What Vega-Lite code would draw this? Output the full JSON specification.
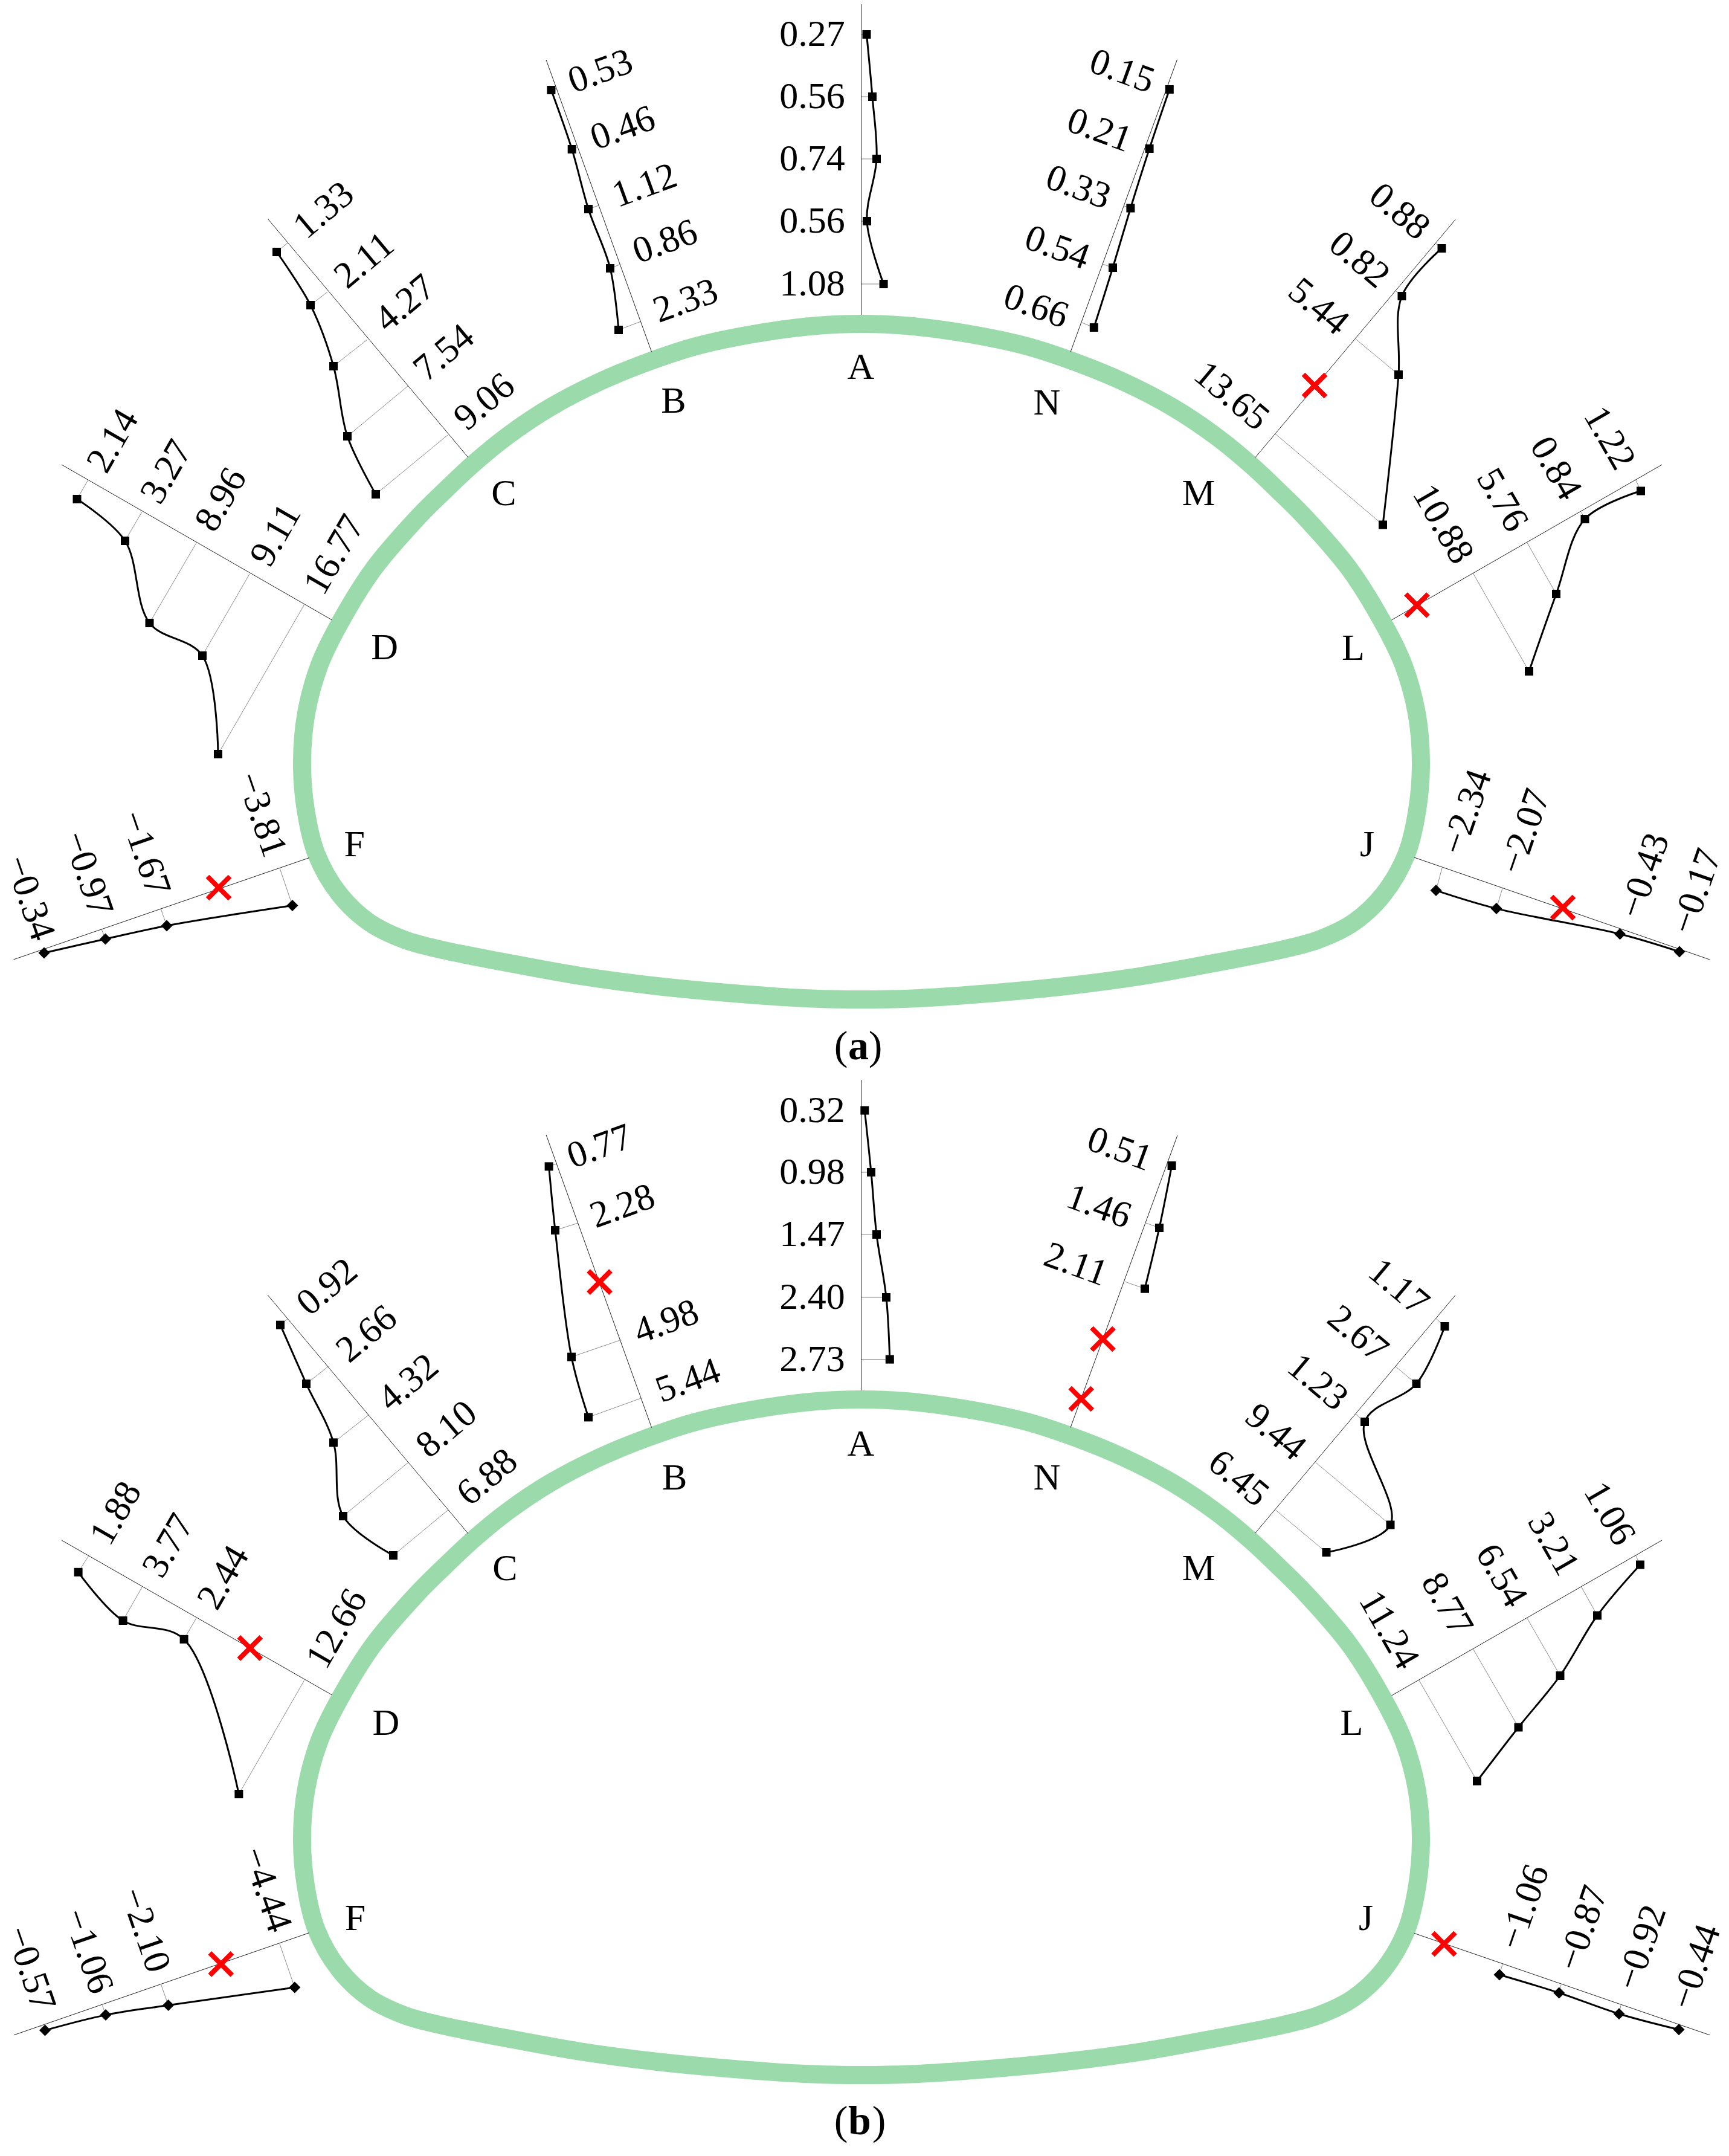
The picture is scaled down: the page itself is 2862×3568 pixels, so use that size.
{"$schema":"https://vega.github.io/schema/vega-lite/v6.json","width":2862,"height":3568,"padding":0,"autosize":{"type":"none"},"background":"white","config":{"view":{"stroke":null}},
"datasets":{
"outline":[
{"p":"a","s":1,"x":1426,"y":536},{"p":"a","s":2,"x":1500,"y":539},{"p":"a","s":3,"x":1600,"y":552},{"p":"a","s":4,"x":1700,"y":573},{"p":"a","s":5,"x":1782,"y":600},{"p":"a","s":6,"x":1860,"y":632},{"p":"a","s":7,"x":1941,"y":674},{"p":"a","s":8,"x":2010,"y":720},{"p":"a","s":9,"x":2069,"y":768},{"p":"a","s":10,"x":2120,"y":816},{"p":"a","s":11,"x":2162,"y":858},{"p":"a","s":12,"x":2234,"y":942},{"p":"a","s":13,"x":2290,"y":1032},{"p":"a","s":14,"x":2323,"y":1100},{"p":"a","s":15,"x":2345,"y":1180},{"p":"a","s":16,"x":2352,"y":1261},{"p":"a","s":17,"x":2346,"y":1340},{"p":"a","s":18,"x":2328,"y":1414},{"p":"a","s":19,"x":2290,"y":1480},{"p":"a","s":20,"x":2240,"y":1527},{"p":"a","s":21,"x":2183,"y":1555},{"p":"a","s":22,"x":2120,"y":1572},{"p":"a","s":23,"x":2019,"y":1592},{"p":"a","s":24,"x":1892,"y":1615},{"p":"a","s":25,"x":1764,"y":1632},{"p":"a","s":26,"x":1637,"y":1644},{"p":"a","s":27,"x":1509,"y":1652.5},{"p":"a","s":28,"x":1426,"y":1654},{"p":"a","s":29,"x":1343,"y":1652.5},{"p":"a","s":30,"x":1215,"y":1644},{"p":"a","s":31,"x":1088,"y":1632},{"p":"a","s":32,"x":960,"y":1615},{"p":"a","s":33,"x":833,"y":1592},{"p":"a","s":34,"x":732,"y":1572},{"p":"a","s":35,"x":669,"y":1555},{"p":"a","s":36,"x":612,"y":1527},{"p":"a","s":37,"x":562,"y":1480},{"p":"a","s":38,"x":524,"y":1414},{"p":"a","s":39,"x":506,"y":1340},{"p":"a","s":40,"x":500,"y":1261},{"p":"a","s":41,"x":507,"y":1180},{"p":"a","s":42,"x":529,"y":1100},{"p":"a","s":43,"x":562,"y":1032},{"p":"a","s":44,"x":618,"y":942},{"p":"a","s":45,"x":690,"y":858},{"p":"a","s":46,"x":732,"y":816},{"p":"a","s":47,"x":783,"y":768},{"p":"a","s":48,"x":842,"y":720},{"p":"a","s":49,"x":911,"y":674},{"p":"a","s":50,"x":992,"y":632},{"p":"a","s":51,"x":1070,"y":600},{"p":"a","s":52,"x":1152,"y":573},{"p":"a","s":53,"x":1252,"y":552},{"p":"a","s":54,"x":1352,"y":539},
{"p":"b","s":1,"x":1426,"y":2316},{"p":"b","s":2,"x":1500,"y":2319},{"p":"b","s":3,"x":1600,"y":2332},{"p":"b","s":4,"x":1700,"y":2353},{"p":"b","s":5,"x":1782,"y":2380},{"p":"b","s":6,"x":1860,"y":2412},{"p":"b","s":7,"x":1941,"y":2454},{"p":"b","s":8,"x":2010,"y":2500},{"p":"b","s":9,"x":2069,"y":2548},{"p":"b","s":10,"x":2120,"y":2596},{"p":"b","s":11,"x":2162,"y":2638},{"p":"b","s":12,"x":2234,"y":2722},{"p":"b","s":13,"x":2290,"y":2812},{"p":"b","s":14,"x":2323,"y":2880},{"p":"b","s":15,"x":2345,"y":2960},{"p":"b","s":16,"x":2352,"y":3041},{"p":"b","s":17,"x":2346,"y":3120},{"p":"b","s":18,"x":2328,"y":3194},{"p":"b","s":19,"x":2290,"y":3260},{"p":"b","s":20,"x":2240,"y":3307},{"p":"b","s":21,"x":2183,"y":3335},{"p":"b","s":22,"x":2120,"y":3352},{"p":"b","s":23,"x":2019,"y":3372},{"p":"b","s":24,"x":1892,"y":3395},{"p":"b","s":25,"x":1764,"y":3412},{"p":"b","s":26,"x":1637,"y":3424},{"p":"b","s":27,"x":1509,"y":3432.5},{"p":"b","s":28,"x":1426,"y":3434},{"p":"b","s":29,"x":1343,"y":3432.5},{"p":"b","s":30,"x":1215,"y":3424},{"p":"b","s":31,"x":1088,"y":3412},{"p":"b","s":32,"x":960,"y":3395},{"p":"b","s":33,"x":833,"y":3372},{"p":"b","s":34,"x":732,"y":3352},{"p":"b","s":35,"x":669,"y":3335},{"p":"b","s":36,"x":612,"y":3307},{"p":"b","s":37,"x":562,"y":3260},{"p":"b","s":38,"x":524,"y":3194},{"p":"b","s":39,"x":506,"y":3120},{"p":"b","s":40,"x":500,"y":3041},{"p":"b","s":41,"x":507,"y":2960},{"p":"b","s":42,"x":529,"y":2880},{"p":"b","s":43,"x":562,"y":2812},{"p":"b","s":44,"x":618,"y":2722},{"p":"b","s":45,"x":690,"y":2638},{"p":"b","s":46,"x":732,"y":2596},{"p":"b","s":47,"x":783,"y":2548},{"p":"b","s":48,"x":842,"y":2500},{"p":"b","s":49,"x":911,"y":2454},{"p":"b","s":50,"x":992,"y":2412},{"p":"b","s":51,"x":1070,"y":2380},{"p":"b","s":52,"x":1152,"y":2353},{"p":"b","s":53,"x":1252,"y":2332},{"p":"b","s":54,"x":1352,"y":2319}],
"axes":[
{"station":"A","x":1425.6,"y":7,"x2":1425.6,"y2":521},{"station":"B","x":904,"y":99,"x2":1078.7,"y2":582.7},{"station":"C","x":444,"y":363,"x2":775,"y2":757},{"station":"D","x":102,"y":769,"x2":549.5,"y2":1026},{"station":"F","x":512,"y":1419.5,"x2":22.4,"y2":1588},{"station":"J","x":2341,"y":1419,"x2":2830,"y2":1588},{"station":"L","x":2303.5,"y":1026,"x2":2751,"y2":769},{"station":"M","x":2077.5,"y":757.5,"x2":2409,"y2":363.5},{"station":"N","x":1772,"y":582.5,"x2":1948.5,"y2":98.7},
{"station":"A","x":1425.6,"y":1787,"x2":1425.6,"y2":2301},{"station":"B","x":904,"y":1878,"x2":1078.7,"y2":2362.7},{"station":"C","x":443,"y":2143,"x2":775,"y2":2538},{"station":"D","x":102,"y":2549,"x2":549.5,"y2":2805},{"station":"F","x":511.7,"y":3198.7,"x2":23,"y2":3367.8},{"station":"J","x":2341,"y":3199.4,"x2":2830,"y2":3367.8},{"station":"L","x":2303.5,"y":2806,"x2":2751,"y2":2549},{"station":"M","x":2077.5,"y":2537.5,"x2":2409,"y2":2143.5},{"station":"N","x":1772,"y":2362.5,"x2":1949,"y2":1879}],
"profile":[
{"series":"a-A","station":"A","seq":1,"label":"0.27","x":1434.5,"y":57,"fx":1425.6,"fy":57,"lx":1344.5,"ly":57},
{"series":"a-A","station":"A","seq":2,"label":"0.56","x":1444,"y":160,"fx":1425.6,"fy":160,"lx":1344.5,"ly":160},
{"series":"a-A","station":"A","seq":3,"label":"0.74","x":1451,"y":263,"fx":1425.6,"fy":263,"lx":1344.5,"ly":263},
{"series":"a-A","station":"A","seq":4,"label":"0.56","x":1435,"y":366,"fx":1425.6,"fy":366,"lx":1344.5,"ly":366},
{"series":"a-A","station":"A","seq":5,"label":"1.08","x":1462.6,"y":470,"fx":1425.6,"fy":470,"lx":1344.5,"ly":470},
{"series":"a-B","station":"B","seq":1,"label":"0.53","x":912.4,"y":149,"fx":921,"fy":146,"lx":994,"ly":118},
{"series":"a-B","station":"B","seq":2,"label":"0.46","x":946.7,"y":247,"fx":956,"fy":243,"lx":1031,"ly":212},
{"series":"a-B","station":"B","seq":3,"label":"1.12","x":974,"y":346,"fx":991,"fy":340,"lx":1067,"ly":307},
{"series":"a-B","station":"B","seq":4,"label":"0.86","x":1010,"y":444,"fx":1026.4,"fy":437.6,"lx":1101,"ly":400},
{"series":"a-B","station":"B","seq":5,"label":"2.33","x":1024,"y":546,"fx":1060.7,"fy":532,"lx":1135,"ly":498},
{"series":"a-C","station":"C","seq":1,"label":"1.33","x":458,"y":417,"fx":476,"fy":402,"lx":536,"ly":348},
{"series":"a-C","station":"C","seq":2,"label":"2.11","x":514,"y":505,"fx":542,"fy":483,"lx":603,"ly":431},
{"series":"a-C","station":"C","seq":3,"label":"4.27","x":552,"y":606,"fx":608,"fy":562,"lx":670.5,"ly":502},
{"series":"a-C","station":"C","seq":4,"label":"7.54","x":575,"y":722,"fx":675,"fy":639,"lx":735,"ly":584},
{"series":"a-C","station":"C","seq":5,"label":"9.06","x":622,"y":818,"fx":741,"fy":720,"lx":802,"ly":665},
{"series":"a-D","station":"D","seq":1,"label":"2.14","x":127.5,"y":826,"fx":145.4,"fy":795,"lx":187,"ly":729.6},
{"series":"a-D","station":"D","seq":2,"label":"3.27","x":207,"y":895,"fx":235,"fy":847,"lx":275.6,"ly":781},
{"series":"a-D","station":"D","seq":3,"label":"8.96","x":247.5,"y":1031,"fx":325,"fy":898.4,"lx":366,"ly":827},
{"series":"a-D","station":"D","seq":4,"label":"9.11","x":335,"y":1085,"fx":413,"fy":950,"lx":456.6,"ly":885.5},
{"series":"a-D","station":"D","seq":5,"label":"16.77","x":361,"y":1248,"fx":503.6,"fy":1000.7,"lx":553.6,"ly":918},
{"series":"a-F","station":"F","seq":1,"label":"−3.81","x":484,"y":1498.5,"fx":463,"fy":1436.7,"lx":432.6,"ly":1348},
{"series":"a-F","station":"F","seq":2,"label":"−1.67","x":276,"y":1532,"fx":266,"fy":1503.4,"lx":240,"ly":1412},
{"series":"a-F","station":"F","seq":3,"label":"−0.97","x":174.5,"y":1554,"fx":168,"fy":1537.7,"lx":145,"ly":1446},
{"series":"a-F","station":"F","seq":4,"label":"−0.34","x":73,"y":1577,"fx":66,"fy":1573,"lx":49,"ly":1486},
{"series":"a-J","station":"J","seq":1,"label":"−2.34","x":2377,"y":1473.6,"fx":2387,"fy":1436.6,"lx":2428,"ly":1344},
{"series":"a-J","station":"J","seq":2,"label":"−2.07","x":2477,"y":1503.6,"fx":2487,"fy":1470,"lx":2524.5,"ly":1376},
{"series":"a-J","station":"J","seq":3,"label":"−0.43","x":2681.5,"y":1545.7,"fx":2684,"fy":1537.7,"lx":2722,"ly":1449},
{"series":"a-J","station":"J","seq":4,"label":"−0.17","x":2780,"y":1575,"fx":2781,"fy":1571.3,"lx":2808,"ly":1475},
{"series":"a-L","station":"L","seq":1,"label":"1.22","x":2716,"y":812.5,"fx":2707.5,"fy":794,"lx":2664,"ly":725},
{"series":"a-L","station":"L","seq":2,"label":"0.84","x":2623.5,"y":859,"fx":2617.5,"fy":847.5,"lx":2575,"ly":775},
{"series":"a-L","station":"L","seq":3,"label":"5.76","x":2576,"y":983,"fx":2527.5,"fy":897.5,"lx":2486.5,"ly":827.5},
{"series":"a-L","station":"L","seq":4,"label":"10.88","x":2531,"y":1111,"fx":2438.5,"fy":949,"lx":2388.5,"ly":867.5},
{"series":"a-M","station":"M","seq":1,"label":"0.88","x":2386.5,"y":411,"fx":2376,"fy":402.5,"lx":2316.5,"ly":350},
{"series":"a-M","station":"M","seq":2,"label":"0.82","x":2320.5,"y":490,"fx":2310,"fy":481,"lx":2250,"ly":430},
{"series":"a-M","station":"M","seq":3,"label":"5.44","x":2315,"y":620,"fx":2244,"fy":561,"lx":2182.5,"ly":507.5},
{"series":"a-M","station":"M","seq":4,"label":"13.65","x":2289,"y":868.5,"fx":2111,"fy":718,"lx":2038.5,"ly":655.5},
{"series":"a-N","station":"N","seq":1,"label":"0.15","x":1935.8,"y":148,"fx":1931.2,"fy":146.4,"lx":1857.3,"ly":118},
{"series":"a-N","station":"N","seq":2,"label":"0.21","x":1902.6,"y":246,"fx":1895.8,"fy":243.6,"lx":1820,"ly":215.6},
{"series":"a-N","station":"N","seq":3,"label":"0.33","x":1871.4,"y":344.5,"fx":1860.5,"fy":340.7,"lx":1785,"ly":310},
{"series":"a-N","station":"N","seq":4,"label":"0.54","x":1842,"y":443,"fx":1825.4,"fy":437,"lx":1750,"ly":410},
{"series":"a-N","station":"N","seq":5,"label":"0.66","x":1810.8,"y":542,"fx":1790.4,"fy":533.7,"lx":1715,"ly":507},
{"series":"b-A","station":"A","seq":1,"label":"0.32","x":1431.3,"y":1837.6,"fx":1425.6,"fy":1837.6,"lx":1344.5,"ly":1838},
{"series":"b-A","station":"A","seq":2,"label":"0.98","x":1442,"y":1940,"fx":1425.6,"fy":1940,"lx":1344.5,"ly":1940},
{"series":"b-A","station":"A","seq":3,"label":"1.47","x":1451,"y":2043,"fx":1425.6,"fy":2043,"lx":1344.5,"ly":2043},
{"series":"b-A","station":"A","seq":4,"label":"2.40","x":1467,"y":2147,"fx":1425.6,"fy":2147,"lx":1344.5,"ly":2147},
{"series":"b-A","station":"A","seq":5,"label":"2.73","x":1472.8,"y":2249.6,"fx":1425.6,"fy":2249.6,"lx":1344.5,"ly":2250},
{"series":"b-B","station":"B","seq":1,"label":"0.77","x":908.6,"y":1930.4,"fx":921.4,"fy":1925.8,"lx":992.5,"ly":1897.7},
{"series":"b-B","station":"B","seq":2,"label":"2.28","x":919,"y":2036,"fx":957,"fy":2024,"lx":1030.5,"ly":1996.4},
{"series":"b-B","station":"B","seq":3,"label":"4.98","x":946,"y":2245.6,"fx":1028,"fy":2217.4,"lx":1103,"ly":2187.6},
{"series":"b-B","station":"B","seq":4,"label":"5.44","x":974,"y":2345.4,"fx":1061,"fy":2314,"lx":1139,"ly":2285},
{"series":"b-C","station":"C","seq":1,"label":"0.92","x":464,"y":2192.7,"fx":476.3,"fy":2182.4,"lx":541.7,"ly":2130},
{"series":"b-C","station":"C","seq":2,"label":"2.66","x":507,"y":2290,"fx":544,"fy":2261,"lx":607,"ly":2207.7},
{"series":"b-C","station":"C","seq":3,"label":"4.32","x":552,"y":2387.4,"fx":610.5,"fy":2341.4,"lx":676,"ly":2288},
{"series":"b-C","station":"C","seq":4,"label":"8.10","x":568,"y":2509,"fx":676,"fy":2420,"lx":739.4,"ly":2365.5},
{"series":"b-C","station":"C","seq":5,"label":"6.88","x":651,"y":2574,"fx":742,"fy":2498.7,"lx":806.6,"ly":2444.7},
{"series":"b-D","station":"D","seq":1,"label":"1.88","x":129.6,"y":2601.8,"fx":147,"fy":2574.4,"lx":192,"ly":2504.5},
{"series":"b-D","station":"D","seq":2,"label":"3.77","x":203.6,"y":2682,"fx":235,"fy":2626.7,"lx":279,"ly":2558},
{"series":"b-D","station":"D","seq":3,"label":"2.44","x":304.6,"y":2712.8,"fx":325,"fy":2677.7,"lx":370,"ly":2610.7},
{"series":"b-D","station":"D","seq":4,"label":"12.66","x":395.4,"y":2969,"fx":503.6,"fy":2781,"lx":557.6,"ly":2695.6},
{"series":"b-F","station":"F","seq":1,"label":"−4.44","x":487.8,"y":3289,"fx":462.8,"fy":3216.6,"lx":441,"ly":3127},
{"series":"b-F","station":"F","seq":2,"label":"−2.10","x":278.6,"y":3318.6,"fx":266.8,"fy":3284.8,"lx":240,"ly":3194},
{"series":"b-F","station":"F","seq":3,"label":"−1.06","x":175,"y":3334.6,"fx":169.4,"fy":3318.6,"lx":145.4,"ly":3229},
{"series":"b-F","station":"F","seq":4,"label":"−0.57","x":74.5,"y":3360,"fx":66.3,"fy":3352.4,"lx":50,"ly":3258},
{"series":"b-J","station":"J","seq":1,"label":"−1.06","x":2482,"y":3268,"fx":2487,"fy":3250.4,"lx":2523,"ly":3156},
{"series":"b-J","station":"J","seq":2,"label":"−0.87","x":2580.7,"y":3298,"fx":2584,"fy":3284.8,"lx":2620,"ly":3191},
{"series":"b-J","station":"J","seq":3,"label":"−0.92","x":2680,"y":3332.7,"fx":2683,"fy":3318.6,"lx":2717,"ly":3223},
{"series":"b-J","station":"J","seq":4,"label":"−0.44","x":2779,"y":3358.8,"fx":2782,"fy":3352.4,"lx":2807,"ly":3255},
{"series":"b-L","station":"L","seq":1,"label":"1.06","x":2715,"y":2589.5,"fx":2707.5,"fy":2574,"lx":2664,"ly":2505},
{"series":"b-L","station":"L","seq":2,"label":"3.21","x":2644,"y":2673.5,"fx":2617.5,"fy":2626,"lx":2571,"ly":2555},
{"series":"b-L","station":"L","seq":3,"label":"6.54","x":2582.5,"y":2773,"fx":2527.5,"fy":2677.5,"lx":2485,"ly":2607.5},
{"series":"b-L","station":"L","seq":4,"label":"8.77","x":2513.5,"y":2858.5,"fx":2438.5,"fy":2729,"lx":2395,"ly":2655},
{"series":"b-L","station":"L","seq":5,"label":"11.24","x":2445,"y":2947.5,"fx":2348.5,"fy":2780,"lx":2299,"ly":2697.5},
{"series":"b-M","station":"M","seq":1,"label":"1.17","x":2391.5,"y":2195,"fx":2377.5,"fy":2182.5,"lx":2315,"ly":2130},
{"series":"b-M","station":"M","seq":2,"label":"2.67","x":2344.5,"y":2290,"fx":2310,"fy":2261.5,"lx":2247.5,"ly":2207.5},
{"series":"b-M","station":"M","seq":3,"label":"1.23","x":2259,"y":2353,"fx":2244,"fy":2340,"lx":2181,"ly":2287.5},
{"series":"b-M","station":"M","seq":4,"label":"9.44","x":2301.5,"y":2523.5,"fx":2177.5,"fy":2420,"lx":2111.5,"ly":2370},
{"series":"b-M","station":"M","seq":5,"label":"6.45","x":2195.5,"y":2569,"fx":2111.5,"fy":2499,"lx":2050,"ly":2446.5},
{"series":"b-N","station":"N","seq":1,"label":"0.51","x":1939.6,"y":1929,"fx":1931.8,"fy":1926.2,"lx":1853.5,"ly":1901.8},
{"series":"b-N","station":"N","seq":2,"label":"1.46","x":1919,"y":2032,"fx":1897,"fy":2024,"lx":1819,"ly":1996.7},
{"series":"b-N","station":"N","seq":3,"label":"2.11","x":1895,"y":2132.7,"fx":1862,"fy":2121,"lx":1781,"ly":2092.7}],
"crosses":[
{"station":"M","x":2176,"y":638},{"station":"L","x":2345.5,"y":1001.5},{"station":"J","x":2587,"y":1502},{"station":"F","x":362,"y":1469},
{"station":"B","x":992.5,"y":2121.6},{"station":"N","x":1825.5,"y":2216},{"station":"N","x":1789.7,"y":2315},{"station":"D","x":413.8,"y":2727.4},{"station":"F","x":365.8,"y":3250.4},{"station":"J","x":2390.4,"y":3217}],
"stations":[
{"t":"A","x":1425,"y":608},{"t":"B","x":1115,"y":664},{"t":"C","x":834,"y":817},{"t":"D","x":636.7,"y":1072},{"t":"F","x":586.7,"y":1398},{"t":"J","x":2263,"y":1398},{"t":"L","x":2240,"y":1073},{"t":"M","x":1984,"y":817},{"t":"N","x":1733,"y":666.5},
{"t":"A","x":1425,"y":2390},{"t":"B","x":1116.6,"y":2446},{"t":"C","x":836,"y":2596},{"t":"D","x":639,"y":2852},{"t":"F","x":588,"y":3175},{"t":"J","x":2261,"y":3175},{"t":"L","x":2237.5,"y":2852},{"t":"M","x":1984,"y":2596},{"t":"N","x":1733,"y":2446}]
},
"layer":[
{"data":{"name":"outline"},"mark":{"type":"line","interpolate":"catmull-rom-closed","stroke":"#9BDBAB","strokeWidth":30},"encoding":{"x":{"field":"x","type":"quantitative","scale":{"domain":[0,2862],"nice":false,"zero":false},"axis":null},"y":{"field":"y","type":"quantitative","scale":{"domain":[0,3568],"reverse":true,"nice":false,"zero":false},"axis":null},"detail":{"field":"p"},"order":{"field":"s","type":"quantitative"}}},
{"data":{"name":"profile"},"mark":{"type":"rule","stroke":"#8a8a8a","strokeWidth":1},"encoding":{"x":{"field":"x","type":"quantitative"},"y":{"field":"y","type":"quantitative"},"x2":{"field":"fx"},"y2":{"field":"fy"}}},
{"data":{"name":"axes"},"mark":{"type":"rule","stroke":"#222222","strokeWidth":1},"encoding":{"x":{"field":"x","type":"quantitative"},"y":{"field":"y","type":"quantitative"},"x2":{"field":"x2"},"y2":{"field":"y2"}}},
{"data":{"name":"profile"},"mark":{"type":"line","interpolate":"catmull-rom","stroke":"black","strokeWidth":3},"encoding":{"x":{"field":"x","type":"quantitative"},"y":{"field":"y","type":"quantitative"},"detail":{"field":"series"},"order":{"field":"seq","type":"quantitative"}}},
{"data":{"name":"profile"},"mark":{"type":"point","filled":true,"color":"black","opacity":1,"strokeWidth":0},"encoding":{"x":{"field":"x","type":"quantitative"},"y":{"field":"y","type":"quantitative"},"shape":{"field":"station","type":"nominal","legend":null,"scale":{"domain":["A","B","C","D","F","J","L","M","N"],"range":["square","square","square","square","diamond","diamond","square","square","square"]}},"size":{"field":"station","type":"ordinal","legend":null,"scale":{"type":"ordinal","domain":["A","B","C","D","F","J","L","M","N"],"range":[196,196,196,196,361,361,196,196,196]}}}},
{"data":{"name":"crosses"},"mark":{"type":"point","shape":"M-1,-1L1,1M-1,1L1,-1","size":1369,"filled":false,"stroke":"#FF0000","strokeWidth":8,"opacity":1},"encoding":{"x":{"field":"x","type":"quantitative"},"y":{"field":"y","type":"quantitative"}}},
{"data":{"name":"profile"},"mark":{"type":"text","font":"Liberation Serif","fontSize":62,"color":"black","align":"center","baseline":"middle"},"encoding":{"x":{"field":"lx","type":"quantitative"},"y":{"field":"ly","type":"quantitative"},"text":{"field":"label"},"angle":{"field":"station","type":"nominal","legend":null,"scale":{"type":"ordinal","domain":["A","B","C","D","F","J","L","M","N"],"range":[0,340,320,300,71,289,60,40,20]}}}},
{"data":{"name":"stations"},"mark":{"type":"text","font":"Liberation Serif","fontSize":62,"color":"black","align":"center","baseline":"middle"},"encoding":{"x":{"field":"x","type":"quantitative"},"y":{"field":"y","type":"quantitative"},"text":{"field":"t"}}},
{"data":{"values":[{"t":"(","x":1392,"y":1733},{"t":")","x":1449,"y":1733},{"t":"(","x":1392,"y":3512},{"t":")","x":1455,"y":3512}]},"mark":{"type":"text","font":"Liberation Serif","fontSize":68,"color":"black","align":"center","baseline":"middle"},"encoding":{"x":{"field":"x","type":"quantitative"},"y":{"field":"y","type":"quantitative"},"text":{"field":"t"}}},
{"data":{"values":[{"t":"a","x":1421,"y":1733},{"t":"b","x":1423,"y":3512}]},"mark":{"type":"text","font":"Liberation Serif","fontSize":68,"fontWeight":"bold","color":"black","align":"center","baseline":"middle"},"encoding":{"x":{"field":"x","type":"quantitative"},"y":{"field":"y","type":"quantitative"},"text":{"field":"t"}}}
]}
